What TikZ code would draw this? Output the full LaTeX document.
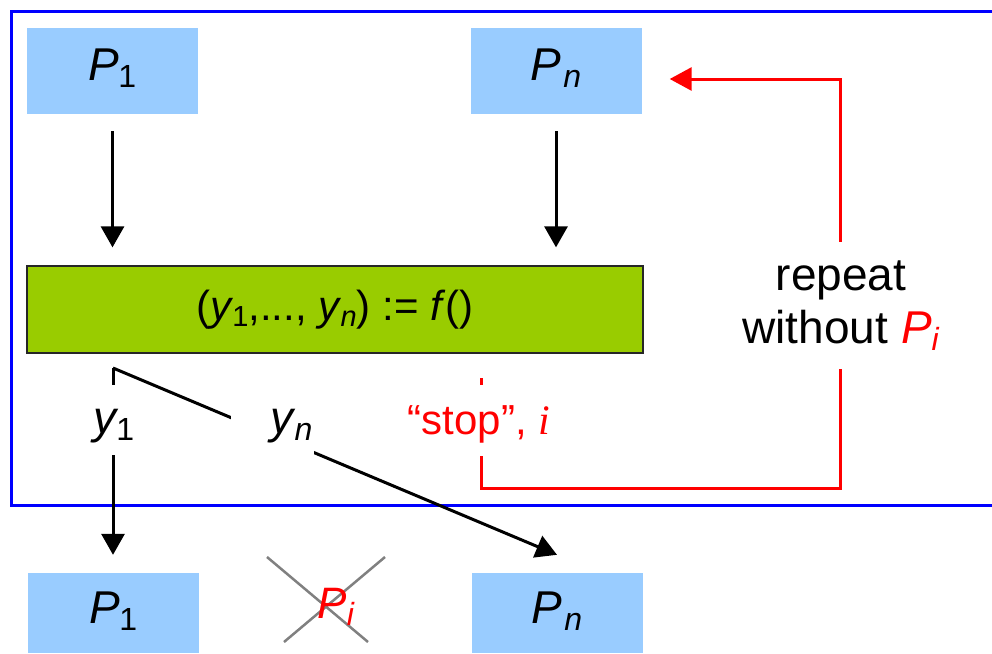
\documentclass[tikz,border=0pt]{standalone}
\usepackage{fontspec}
\setmainfont{Liberation Sans}
\newfontfamily\timesfont{Liberation Serif}
\usetikzlibrary{arrows.meta,calc}
\definecolor{boxblue}{HTML}{99CCFF}
\definecolor{boxgreen}{HTML}{99CC00}
\definecolor{frameblue}{HTML}{0000FF}
\definecolor{redc}{HTML}{FF0000}
\definecolor{crossgray}{HTML}{808080}
\newcommand\lsub[1]{\raisebox{-7pt}{\fontsize{32}{32}\selectfont #1}}
\newcommand\gsub[1]{\raisebox{-6pt}{\fontsize{29}{29}\selectfont #1}}
\begin{document}
\begin{tikzpicture}[x=1pt,y=-1pt,
  pbox/.style={fill=boxblue, minimum width=171pt, minimum height=86pt, inner sep=0pt,
    font=\fontsize{46}{46}\selectfont, text height=32pt, text depth=14pt},
  pboxlow/.style={pbox, minimum height=80pt, text height=34pt, text depth=14pt},
  fbox/.style={fill=boxgreen, draw=black!85, line width=1.3pt, minimum width=616pt,
    minimum height=87pt, inner sep=0pt, font=\fontsize{42}{42}\selectfont,
    text height=30pt, text depth=9pt},
  lbl/.style={fill=white, inner sep=0pt, inner xsep=2pt, font=\fontsize{46}{46}\selectfont},
  blk/.style={line width=3pt, draw=black},
  barrow/.style={blk, -{Triangle[length=21pt,width=23pt]}},
  redpath/.style={draw=redc, line width=3pt, -{Triangle[length=22pt,width=23pt]}},
  frame/.style={line width=3pt, draw=frameblue},
  cross/.style={line width=2.5pt, draw=crossgray}]
\useasboundingbox (0,0) rectangle (992,653);

% frame
\draw[frame] (992,11) -- (11,11) -- (11,505) -- (992,505);

% boxes
\node[pbox] (P1top) at (112.5,71) {\textit{P}\kern-1pt\lsub{1}};
\node[pbox] (Pntop) at (556,71) {\textit{P}\kern2pt\lsub{\textit{n}}};
\node[fbox] (f) at (335,309.5) {(\textit{y}\kern-1pt\gsub{1},..., \textit{y}\kern-1pt\gsub{\textit{n}}) := \textit{f}()};
\node[pboxlow] (P1bot) at (113.5,613) {\textit{P}\kern-1pt\lsub{1}};
\node[pboxlow] (Pnbot) at (557,613) {\textit{P}\kern2pt\lsub{\textit{n}}};

% arrows into f
\coordinate (a1) at ([yshift=-17pt]P1top.south);
\coordinate (a2) at ([yshift=18pt]f.north -| P1top.south);
\draw[barrow] (a1) -- (a2);
\coordinate (b1) at ([yshift=-17pt]Pntop.south);
\coordinate (b2) at ([yshift=18pt]f.north -| Pntop.south);
\draw[barrow] (b1) -- (b2);

% outputs
\coordinate (split) at (113,368);
\coordinate (t1) at ([yshift=18pt]P1bot.north);
\draw[barrow] (split) -- (split |- t1);
\coordinate (t2) at ([yshift=18pt]Pnbot.north);
\draw[barrow] (split) -- (t2);
\node[lbl, minimum height=70pt, text height=28pt, text depth=2pt] (y1) at (114,420) {\textit{y}\kern-3pt\lsub{1}};
\node[lbl, inner xsep=0pt, minimum width=83pt, minimum height=65pt, text width=80pt,
  align=right, text height=13pt, text depth=2pt] (yn) at (272.5,427.5) {\textit{y}\kern-1pt\lsub{\textit{n}}};

% red stop loop
\coordinate (stoptop) at (481,378);
\coordinate (r1) at (481,488);
\coordinate (r2) at (840,488);
\coordinate (r3) at (840,79);
\coordinate (r4) at ([xshift=28pt]r3 -| Pntop.east);
\draw[redpath] (stoptop) -- (r1) -- (r2) -- (r3) -- (r4);
\node[lbl, text=redc, font=\fontsize{42}{42}\selectfont, minimum height=71pt,
  text height=30pt, text depth=2pt] (stop) at (479,420.5) {“stop”, {\timesfont\itshape i}};
\node[lbl, align=center, minimum height=127pt, inner sep=2pt,
  font=\fontsize{46}{53}\selectfont] (rep) at (841,305.5)
  {repeat\\without \textcolor{redc}{\textit{P}\lsub{\textit{i}}}};

% removed P_i
\coordinate (pic) at (336,607);
\draw[cross] ($(pic)+(-69,-50)$) -- ($(pic)+(32,35)$);
\draw[cross] ($(pic)+(49,-50)$) -- ($(pic)+(-52,35)$);
\node[text=redc, inner sep=0pt, font=\fontsize{44}{44}\selectfont] (Pi) at (pic) {\textit{P}\lsub{\textit{i}}};
\end{tikzpicture}
\end{document}
